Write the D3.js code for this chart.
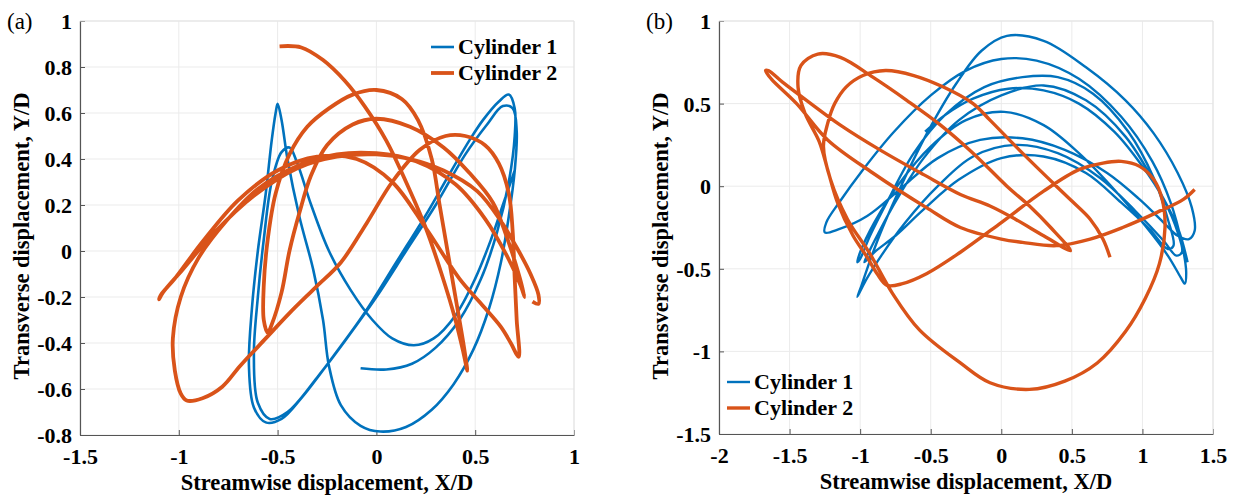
<!DOCTYPE html>
<html>
<head>
<meta charset="utf-8">
<script src="https://cdn.jsdelivr.net/npm/d3@7"></script>
<style>
  body { margin: 0; background: #fff; }
  svg { display: block; }
  text { font-family: "Liberation Serif", "Times New Roman", serif; fill: #000; }
</style>
</head>
<body>
<svg id="chart" width="1236" height="499"></svg>
<script>
// ---- data ----
const xTicksA = [-1.5, -1, -0.5, 0, 0.5, 1];
const yTicksA = [-0.8, -0.6, -0.4, -0.2, 0, 0.2, 0.4, 0.6, 0.8, 1];
const xTicksB = [-2, -1.5, -1, -0.5, 0, 0.5, 1, 1.5];
const yTicksB = [-1.5, -1, -0.5, 0, 0.5, 1];
const seriesNames = ["Cylinder 1", "Cylinder 2"];

// panel (a), cylinder 1 trajectory [X/D, Y/D]
const cyl1A = [
  [-0.08,-0.51],[0.05,-0.515],[0.18,-0.49],[0.3,-0.42],[0.42,-0.3],[0.53,-0.12],[0.61,0.08],[0.67,0.3],[0.70,0.5],[0.70,0.62],[0.67,0.68],
  [0.62,0.65],[0.54,0.57],[0.47,0.48],[0.36,0.32],[0.26,0.17],[0.1,-0.05],[-0.06,-0.27],[-0.22,-0.46],[-0.38,-0.64],[-0.48,-0.73],
  [-0.56,-0.745],[-0.62,-0.68],[-0.645,-0.5],[-0.63,-0.25],[-0.6,0.0],[-0.56,0.25],[-0.53,0.48],[-0.51,0.6],[-0.5,0.64],[-0.48,0.57],
  [-0.45,0.4],[-0.39,0.15],[-0.32,-0.08],[-0.27,-0.3],[-0.24,-0.5],[-0.18,-0.67],[-0.08,-0.76],[0.02,-0.785],[0.15,-0.765],[0.28,-0.69],
  [0.39,-0.58],[0.49,-0.43],[0.57,-0.25],[0.63,-0.05],[0.67,0.15],[0.70,0.35],[0.71,0.52],[0.69,0.62],[0.64,0.63],[0.56,0.55],
  [0.45,0.42],[0.3,0.2],[0.15,0.0],[0.0,-0.2],[-0.15,-0.38],[-0.3,-0.55],[-0.45,-0.7],[-0.54,-0.73],[-0.6,-0.66],[-0.62,-0.45],
  [-0.6,-0.2],[-0.57,0.05],[-0.53,0.3],[-0.48,0.43],[-0.44,0.45],[-0.4,0.38],[-0.33,0.2],[-0.24,0.0],[-0.13,-0.17],[-0.02,-0.3],
  [0.08,-0.38],[0.19,-0.41],[0.29,-0.38],[0.4,-0.28],[0.5,-0.12],[0.58,0.05],[0.64,0.2],[0.70,0.35]
];

// panel (a), cylinder 2 trajectory
const cyl2A = [
  [-0.49,0.89],[-0.38,0.885],[-0.27,0.83],[-0.16,0.74],[-0.06,0.63],[0.05,0.48],[0.15,0.3],[0.25,0.1],[0.33,-0.1],[0.40,-0.3],[0.44,-0.44],[0.46,-0.52],
  [0.44,-0.4],[0.40,-0.2],[0.36,0.0],[0.32,0.2],[0.28,0.4],[0.21,0.57],[0.13,0.66],[0.0,0.70],[-0.12,0.68],[-0.24,0.62],[-0.35,0.54],
  [-0.44,0.42],[-0.51,0.25],[-0.55,0.05],[-0.57,-0.15],[-0.57,-0.3],[-0.55,-0.355],
  [-0.53,-0.32],[-0.48,-0.18],[-0.44,0.0],[-0.39,0.165],[-0.33,0.33],[-0.25,0.46],[-0.12,0.55],[0.0,0.575],[0.17,0.54],[0.34,0.45],
  [0.47,0.34],[0.59,0.21],[0.66,0.06],[0.72,-0.1],[0.75,-0.2],
  [0.73,-0.15],[0.66,-0.02],[0.55,0.14],[0.4,0.29],[0.2,0.39],[0.0,0.425],[-0.2,0.42],[-0.4,0.37],[-0.6,0.27],[-0.76,0.13],
  [-0.9,-0.03],[-0.99,-0.2],[-1.03,-0.38],[-1.02,-0.52],[-0.99,-0.62],[-0.96,-0.65],
  [-0.88,-0.64],[-0.78,-0.59],[-0.69,-0.5],[-0.56,-0.38],[-0.44,-0.27],[-0.31,-0.16],[-0.18,-0.05],[-0.05,0.12],[0.08,0.3],[0.22,0.44],
  [0.35,0.5],[0.45,0.5],[0.55,0.46],[0.62,0.38],[0.67,0.25],[0.69,0.08],[0.70,-0.12],[0.71,-0.3],[0.72,-0.46],
  [0.68,-0.4],[0.63,-0.33],[0.52,-0.22],[0.42,-0.12],[0.25,0.1],[0.08,0.3],[-0.1,0.4],[-0.3,0.41],[-0.5,0.35],[-0.7,0.22],
  [-0.88,0.04],[-1.02,-0.12],[-1.09,-0.19],[-1.1,-0.21],
  [-1.08,-0.18],[-0.98,-0.08],[-0.82,0.08],[-0.62,0.24],[-0.4,0.36],[-0.2,0.41],[0.0,0.42],[0.17,0.4],[0.34,0.35],[0.51,0.26],
  [0.63,0.13],[0.72,0.0],[0.78,-0.1],[0.82,-0.19],[0.82,-0.23],[0.79,-0.22]
];

// panel (b), cylinder 1 trajectory
const cyl1B = [
  [-0.54,0.33],[-0.4,0.43],[-0.2,0.53],[0.05,0.59],[0.3,0.58],[0.55,0.5],[0.8,0.33],[1.0,0.12],[1.15,-0.08],[1.25,-0.28],[1.28,-0.4],[1.24,-0.42],
  [1.15,-0.33],[0.95,-0.15],[0.7,0.05],[0.4,0.2],[0.1,0.25],[-0.2,0.18],[-0.45,0.0],[-0.68,-0.22],[-0.85,-0.42],[-0.96,-0.57],[-1.02,-0.67],
  [-0.99,-0.6],[-0.93,-0.45],[-0.84,-0.25],[-0.7,0.02],[-0.52,0.33],[-0.32,0.62],[-0.14,0.82],[0.04,0.91],[0.3,0.88],[0.6,0.72],
  [0.88,0.52],[1.08,0.32],[1.25,0.08],[1.35,-0.13],[1.37,-0.27],[1.33,-0.32],[1.25,-0.3],
  [1.15,-0.22],[0.98,-0.08],[0.75,0.08],[0.45,0.22],[0.15,0.29],[-0.15,0.28],[-0.45,0.17],[-0.72,-0.02],[-0.95,-0.18],[-1.15,-0.26],
  [-1.25,-0.28],[-1.24,-0.22],
  [-1.15,-0.1],[-0.98,0.1],[-0.76,0.33],[-0.5,0.55],[-0.25,0.7],[0.0,0.77],[0.25,0.76],[0.55,0.65],[0.85,0.42],[1.07,0.15],
  [1.2,-0.1],[1.28,-0.35],[1.31,-0.52],[1.3,-0.59],[1.27,-0.55],
  [1.18,-0.42],[1.02,-0.24],[0.8,-0.02],[0.55,0.2],[0.3,0.37],[0.02,0.45],[-0.25,0.4],[-0.5,0.24],[-0.72,0.02],[-0.9,-0.22],
  [-1.0,-0.4],[-1.02,-0.46],[-1.0,-0.44],
  [-0.93,-0.3],[-0.8,-0.08],[-0.62,0.2],[-0.4,0.43],[-0.12,0.6],[0.15,0.66],[0.4,0.66],[0.65,0.56],[0.9,0.33],[1.08,0.05],
  [1.18,-0.2],[1.22,-0.36],[1.18,-0.38],
  [1.05,-0.26],[0.85,-0.1],[0.6,0.08],[0.3,0.18],[0.0,0.17],[-0.3,0.04],[-0.55,-0.14],[-0.75,-0.3],[-0.9,-0.4],[-0.97,-0.46],[-0.95,-0.42],
  [-0.88,-0.3],[-0.74,-0.08],[-0.55,0.17],[-0.3,0.4],[0.0,0.55],[0.3,0.61],[0.6,0.52],[0.88,0.3],[1.1,0.0],[1.25,-0.25],[1.32,-0.46]
];

// panel (b), cylinder 2 trajectory
const cyl2B = [
  [0.77,-0.43],[0.72,-0.32],[0.63,-0.2],[0.5,-0.09],[0.39,0.0],[0.15,0.2],[-0.08,0.4],[-0.2,0.5],[-0.41,0.6],[-0.62,0.67],[-0.82,0.70],
  [-0.98,0.67],[-1.1,0.6],[-1.18,0.5],[-1.23,0.38],[-1.26,0.24],[-1.21,0.04],[-1.09,-0.2],[-0.93,-0.41],[-0.77,-0.65],[-0.58,-0.87],
  [-0.29,-1.07],[-0.08,-1.19],[0.2,-1.23],[0.45,-1.18],[0.68,-1.07],[0.88,-0.88],[1.02,-0.68],[1.12,-0.47],[1.16,-0.25],[1.14,-0.08],
  [1.08,0.04],[0.98,0.12],[0.85,0.15],[0.72,0.14],[0.55,0.1],[0.3,-0.03],[0.0,-0.22],[-0.29,-0.4],[-0.53,-0.53],[-0.7,-0.59],
  [-0.81,-0.6],[-0.88,-0.53],[-0.95,-0.43],[-1.05,-0.3],[-1.16,-0.1],[-1.23,0.1],[-1.29,0.27],[-1.39,0.44],[-1.44,0.6],[-1.42,0.73],
  [-1.3,0.8],[-1.14,0.78],[-0.91,0.66],[-0.67,0.52],[-0.43,0.37],[-0.2,0.2],[0.04,0.0],[0.2,-0.12],[0.35,-0.25],[0.49,-0.39],
  [0.3,-0.3],[0.1,-0.2],[-0.08,-0.12],[-0.29,-0.05],[-0.55,0.07],[-0.86,0.22],[-1.14,0.37],[-1.38,0.52],[-1.55,0.63],[-1.65,0.7],
  [-1.67,0.7],[-1.63,0.65],[-1.45,0.5],[-1.23,0.28],[-0.91,0.08],[-0.53,-0.13],[-0.29,-0.25],[0.0,-0.32],[0.15,-0.34],[0.39,-0.36],
  [0.63,-0.32],[0.86,-0.25],[1.1,-0.16],[1.29,-0.08],[1.37,-0.02]
];

// ---- drawing ----
const BLUE = "#0072BD";
const ORANGE = "#D95319";
const svg = d3.select("#chart");

const panels = [
  {
    id: "a", label: "(a)", labelX: 7,
    box: { left: 80, right: 574, top: 21, bottom: 435 },
    xDomain: [-1.5, 1], yDomain: [-0.8, 1], xTicks: xTicksA, yTicks: yTicksA,
    series: [cyl1A, cyl2A], widths: [2.6, 3.8],
    legend: { x: 431, y: 47 }
  },
  {
    id: "b", label: "(b)", labelX: 646,
    box: { left: 719, right: 1213, top: 21, bottom: 434 },
    xDomain: [-2, 1.5], yDomain: [-1.5, 1], xTicks: xTicksB, yTicks: yTicksB,
    series: [cyl1B, cyl2B], widths: [2.4, 3.4],
    legend: { x: 727, y: 382 }
  }
];

panels.forEach(drawPanel);

function drawPanel(p) {
  const { left, right, top, bottom } = p.box;
  const x = d3.scaleLinear().domain(p.xDomain).range([left, right]);
  const y = d3.scaleLinear().domain(p.yDomain).range([bottom, top]);
  const g = svg.append("g").attr("class", "panel-" + p.id);

  // grid
  g.append("g").selectAll("line").data(p.xTicks).join("line")
    .attr("x1", (d) => x(d)).attr("x2", (d) => x(d))
    .attr("y1", top).attr("y2", bottom)
    .attr("stroke", "#ebebeb").attr("stroke-width", 1);
  g.append("g").selectAll("line").data(p.yTicks).join("line")
    .attr("x1", left).attr("x2", right)
    .attr("y1", (d) => y(d)).attr("y2", (d) => y(d))
    .attr("stroke", "#ebebeb").attr("stroke-width", 1);

  // axes (ticks inside)
  const fmt = (d) => String(+d.toFixed(2));
  const xAxis = d3.axisBottom(x).tickValues(p.xTicks).tickSizeInner(-5).tickSizeOuter(0).tickFormat(fmt).tickPadding(13);
  const yAxis = d3.axisLeft(y).tickValues(p.yTicks).tickSizeInner(-5).tickSizeOuter(0).tickFormat(fmt).tickPadding(8);

  const gx = g.append("g").attr("transform", `translate(0,${bottom})`).call(xAxis);
  const gy = g.append("g").attr("transform", `translate(${left},0)`).call(yAxis);
  [gx, gy].forEach((ax) => {
    ax.select(".domain").attr("stroke", "#555").attr("stroke-width", 1.2);
    ax.selectAll(".tick line").attr("stroke", "#555");
    ax.selectAll(".tick text")
      .attr("fill", "#000")
      .style("font-family", '"Liberation Serif", "Times New Roman", serif')
      .style("font-size", "22px").style("font-weight", "bold");
  });
  gx.selectAll(".tick text").attr("dy", "0.71em");
  gy.selectAll(".tick text").attr("dy", "0.34em");

  // light top/right frame
  g.append("path")
    .attr("d", `M${left},${top}H${right}V${bottom}`)
    .attr("fill", "none").attr("stroke", "#e3e3e3").attr("stroke-width", 1);

  // clip
  svg.append("clipPath").attr("id", "clip-" + p.id)
    .append("rect").attr("x", left).attr("y", top).attr("width", right - left).attr("height", bottom - top);

  const line = d3.line().x((d) => x(d[0])).y((d) => y(d[1])).curve(d3.curveCatmullRom.alpha(0.5));
  const colors = [BLUE, ORANGE];
  g.append("g").attr("clip-path", `url(#clip-${p.id})`)
    .selectAll("path").data(p.series).join("path")
    .attr("d", line)
    .attr("fill", "none")
    .attr("stroke", (d, i) => colors[i])
    .attr("stroke-width", (d, i) => p.widths[i])
    .attr("stroke-linejoin", "round");

  // axis titles
  g.append("text")
    .attr("x", (left + right) / 2).attr("y", bottom + 55)
    .attr("text-anchor", "middle")
    .style("font-size", "22.5px").style("font-weight", "bold")
    .text("Streamwise displacement, X/D");
  g.append("text")
    .attr("transform", `translate(${left - 51},236) rotate(-90)`)
    .attr("text-anchor", "middle")
    .style("font-size", "22.5px").style("font-weight", "bold")
    .text("Transverse displacement, Y/D");

  // panel tag
  g.append("text").attr("x", p.labelX).attr("y", 29)
    .style("font-size", "23px").text(p.label);

  // legend
  const lg = g.append("g").attr("transform", `translate(${p.legend.x},${p.legend.y})`);
  seriesNames.forEach((name, i) => {
    lg.append("line").attr("x1", 0).attr("x2", 23).attr("y1", i * 26).attr("y2", i * 26)
      .attr("stroke", colors[i]).attr("stroke-width", p.widths[i]);
    lg.append("text").attr("x", 27).attr("y", i * 26 + 7)
      .style("font-size", "22px").style("font-weight", "bold").text(name);
  });
}
</script>
</body>
</html>
